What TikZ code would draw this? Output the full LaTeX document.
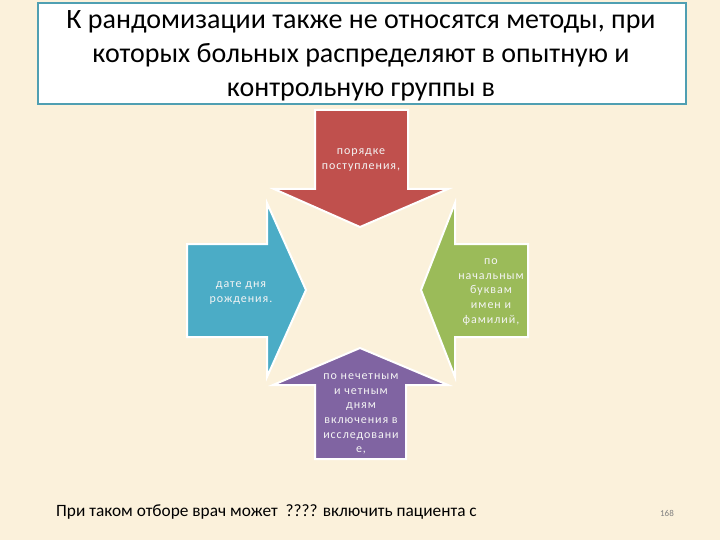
\documentclass[tikz,border=0pt]{standalone}
\usepackage{fontspec}
\setmainfont{Carlito}
\definecolor{bg}{HTML}{FBF1DB}
\definecolor{tborder}{HTML}{4F9FB2}
\definecolor{ared}{HTML}{C0504D}
\definecolor{ablue}{HTML}{4BACC6}
\definecolor{agreen}{HTML}{9BBB59}
\definecolor{apurple}{HTML}{8064A2}
\definecolor{atext}{HTML}{F4F4F4}
\begin{document}
\begin{tikzpicture}[x=1pt,y=-1pt,
  arrowshape/.style={draw=white,line width=2pt,line join=miter},
  arrowtext/.style={text=atext,align=center,font=\fontsize{12}{14.6}\selectfont\addfontfeature{LetterSpace=8},inner sep=0pt},
  titletext/.style={align=center,font=\fontsize{28}{34}\selectfont,inner sep=0pt}]
\useasboundingbox (0,0) rectangle (720,540);
\fill[bg] (0,0) rectangle (720,540);
% title box
\node[draw=tborder,line width=2pt,fill=white,minimum width=648pt,minimum height=101pt,anchor=north west,inner sep=0pt] (titlebox) at (37,2) {};
\node[titletext] (title) at (361,55.5) {К рандомизации также не относятся методы, при\\ которых больных распределяют в опытную и\\ контрольную группы в};
% red arrow (down)
\path[arrowshape,fill=ared] (315,110) -- (408,110) -- (408,189) -- (448,189) -- (360,227) -- (274,189) -- (315,189) -- cycle;
% blue arrow (right)
\path[arrowshape,fill=ablue] (187,244) -- (267,244) -- (267,203) -- (306,290) -- (267,377) -- (267,337) -- (187,337) -- cycle;
% green arrow (left)
\path[arrowshape,fill=agreen] (528,244) -- (455,244) -- (455,203) -- (421,290) -- (455,377) -- (455,337) -- (528,337) -- cycle;
% purple arrow (up)
\path[arrowshape,fill=apurple] (315,459) -- (406,459) -- (406,385) -- (448,385) -- (360,348) -- (273,385) -- (315,385) -- cycle;
% arrow texts
\node[arrowtext] (tred) at (361,160) {порядке\\поступления,};
\node[arrowtext] (tblue) at (241,293) {дате дня\\рождения.};
\node[arrowtext] (tgreen) at (491,292) {по\\начальным\\буквам\\имен и\\фамилий,};
\node[arrowtext] (tpurple) at (361,414) {по нечетным\\и четным\\дням\\включения в\\исследовани\\е,};
% bottom text
\node[anchor=west,font=\fontsize{17.3}{20}\selectfont,inner sep=0pt] (bottom) at (56,512) {При таком отборе врач может \ ???? включить пациента с};
\node[font=\fontsize{9}{11}\selectfont,text=gray,inner sep=0pt] (pagenum) at (667,513) {168};
\end{tikzpicture}
\end{document}
